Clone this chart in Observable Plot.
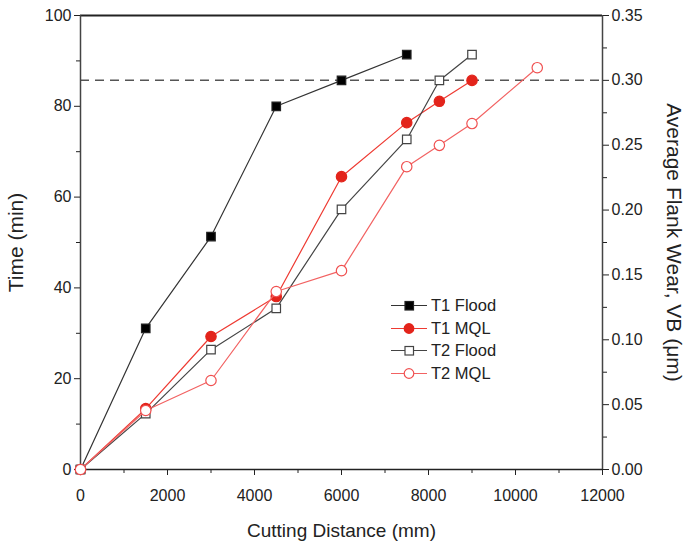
<!DOCTYPE html>
<html><head><meta charset="utf-8">
<script src="https://cdn.jsdelivr.net/npm/d3@7"></script>
<script src="https://cdn.jsdelivr.net/npm/@observablehq/plot@0.6"></script>
<style>
body{margin:0;background:#fff;font-family:"Liberation Sans",Arial,sans-serif;}
#wrap{position:relative;width:687px;height:546px;}
#legend{position:absolute;left:391px;top:294px;font-size:16.5px;color:#222;line-height:22.7px;}
#legend div{display:flex;align-items:center;height:22.7px;}
#legend svg{margin-right:4px;}
</style></head>
<body><div id="wrap"><div id="legend"></div></div>
<script>
const t1FloodX = [0, 1500, 3000, 4500, 6000, 7500];
const t1Flood = [0, 31.1, 51.3, 80.0, 85.7, 91.4];
const t1MQLX = [0, 1500, 3000, 4500, 6000, 7500, 8250, 9000];
const t1MQL = [0, 13.4, 29.3, 38.1, 64.5, 76.4, 81.1, 85.7];
const t2FloodX = [0, 1500, 3000, 4500, 6000, 7500, 8250, 9000];
const t2Flood = [0, 12.3, 26.4, 35.5, 57.3, 72.7, 85.7, 91.4];
const t2MQLX = [0, 1500, 3000, 4500, 6000, 7500, 8250, 9000, 10500];
const t2MQL = [0, 13.0, 19.6, 39.2, 43.8, 66.7, 71.4, 76.2, 88.5];
const xTicks = [0, 2000, 4000, 6000, 8000, 10000, 12000];
const yTicks = [0, 20, 40, 60, 80, 100];
const wearTicks = [0, 0.05, 0.10, 0.15, 0.20, 0.25, 0.30, 0.35];
const wearLimit = 0.30;
const wearMax = 0.35;

const seriesDefs = [
  {name:"T1 Flood", xs:t1FloodX, ys:t1Flood, stroke:"#222", fill:"#000", symbol:"square", line:"#333"},
  {name:"T1 MQL", xs:t1MQLX, ys:t1MQL, stroke:"#e3241b", fill:"#e3241b", symbol:"circle", line:"#ee3a32"},
  {name:"T2 Flood", xs:t2FloodX, ys:t2Flood, stroke:"#444", fill:"#fff", symbol:"square", line:"#444"},
  {name:"T2 MQL", xs:t2MQLX, ys:t2MQL, stroke:"#f05050", fill:"#fff", symbol:"circle", line:"#f26262"}
];
const w2y = v => v / wearMax * 100;

const marks = [];
marks.push(Plot.ruleY([w2y(wearLimit)], {stroke:"#555", strokeWidth:1.5, strokeDasharray:"9,6"}));
marks.push(Plot.ruleY([100], {stroke:"#222", strokeWidth:2}));
marks.push(Plot.ruleY([0], {stroke:"#222", strokeWidth:1.5}));
marks.push(Plot.ruleX([0], {stroke:"#444", strokeWidth:1.5}));
marks.push(Plot.ruleX([12000], {stroke:"#444", strokeWidth:1.5}));
marks.push(Plot.axisX({ticks:xTicks, tickSize:6, text:null, label:null}));
marks.push(Plot.text(xTicks, {x:d=>d, frameAnchor:"bottom", dy:26, textAnchor:"middle", lineAnchor:"middle", fontSize:16, fill:"#222", text:d=>String(d)}));
marks.push(Plot.axisX({ticks:d3.range(1000,12000,2000), tickSize:4, text:null, label:null}));
marks.push(Plot.axisY({anchor:"left", ticks:yTicks, tickSize:6, tickPadding:3, fontSize:16, label:null}));
marks.push(Plot.axisY({anchor:"left", ticks:d3.range(10,100,20), tickSize:4, text:null, label:null}));
marks.push(Plot.axisY({anchor:"right", ticks:wearTicks.map(w2y), tickSize:6, tickPadding:3, fontSize:16, label:null,
  tickFormat:d=>(d*wearMax/100).toFixed(2)}));
marks.push(Plot.axisY({anchor:"right", ticks:d3.range(0.025,0.35,0.05).map(w2y), tickSize:4, text:null, label:null}));
marks.push(Plot.text(["Cutting Distance (mm)"], {frameAnchor:"bottom", dy:61, textAnchor:"middle", lineAnchor:"middle", fontSize:19, fill:"#222"}));
marks.push(Plot.text(["Time (min)"], {frameAnchor:"left", dx:-64, textAnchor:"middle", lineAnchor:"middle", rotate:-90, fontSize:21, fill:"#222"}));
marks.push(Plot.text(["Average Flank Wear, VB (μm)"], {frameAnchor:"right", dx:71, textAnchor:"middle", lineAnchor:"middle", rotate:90, fontSize:21, fill:"#222"}));

for (const s of seriesDefs) {
  const data = s.xs.map((x,i)=>({x, y:s.ys[i]}));
  marks.push(Plot.line(data, {x:"x", y:"y", stroke:s.line, strokeWidth:1.2}));
  marks.push(Plot.dot(data, {x:"x", y:"y", symbol:s.symbol, r:s.symbol==="square"?4.8:5.2, fill:s.fill, stroke:s.stroke, strokeWidth:1.2}));
}

const chart = Plot.plot({
  width:687, height:546,
  marginLeft:80, marginRight:85, marginTop:15, marginBottom:77,
  style:{fontFamily:"'Liberation Sans',Arial,sans-serif", color:"#222", background:"#fff"},
  x:{domain:[0,12000]},
  y:{domain:[0,100]},
  marks
});
document.getElementById("wrap").prepend(chart);

const leg = document.getElementById("legend");
for (const s of seriesDefs) {
  const row = document.createElement("div");
  const sym = s.symbol === "square"
    ? `<rect x="14" y="6.5" width="8.5" height="8.5" fill="${s.fill}" stroke="${s.stroke}" stroke-width="1.2"/>`
    : `<circle cx="18" cy="10.5" r="4.8" fill="${s.fill}" stroke="${s.stroke}" stroke-width="1.2"/>`;
  row.innerHTML = `<svg width="36" height="21"><line x1="0" x2="36" y1="10.5" y2="10.5" stroke="${s.line}" stroke-width="1.2"/>${sym}</svg><span>${s.name}</span>`;
  leg.appendChild(row);
}
</script></body></html>
